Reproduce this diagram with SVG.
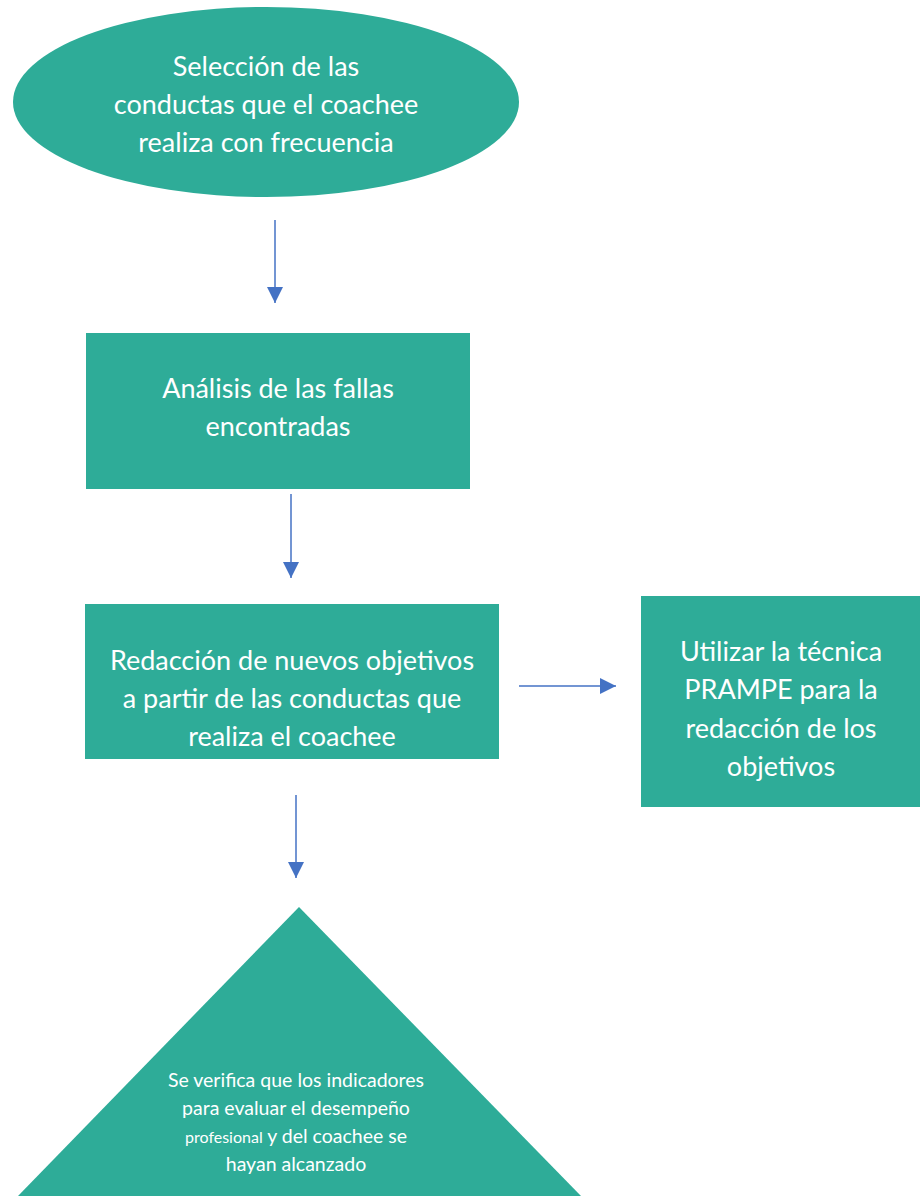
<svg xmlns="http://www.w3.org/2000/svg" width="920" height="1196" viewBox="0 0 920 1196">
<style>
.n{fill:#2EAC98}
.t{fill:#FFFFFF;font-family:Lato,"Open Sans",sans-serif;text-anchor:middle}
.big{font-size:27px}
.sm{font-size:19.5px}
.xs{font-size:16px}
</style>
<defs>
<marker id="ah2" viewBox="0 0 16 16" refX="16" refY="8" markerWidth="16" markerHeight="16" markerUnits="userSpaceOnUse" orient="auto">
<path d="M0,0 L16,8 L0,16 z" fill="#4472C4"/>
</marker>
</defs>
<rect width="920" height="1196" fill="#FFFFFF"/>
<g id="connectors">
<line x1="275" y1="220" x2="275" y2="303" stroke="#4472C4" stroke-width="1.5" marker-end="url(#ah2)"/>
<line x1="291" y1="494" x2="291" y2="578" stroke="#4472C4" stroke-width="1.5" marker-end="url(#ah2)"/>
<line x1="519" y1="686" x2="616" y2="686" stroke="#4472C4" stroke-width="1.5" marker-end="url(#ah2)"/>
<line x1="296" y1="795" x2="296" y2="878" stroke="#4472C4" stroke-width="1.5" marker-end="url(#ah2)"/>
</g>
<g id="node1">
<ellipse class="n" cx="266" cy="102" rx="253" ry="95"/>
<text class="t big" x="266" y="76">Selección de las</text>
<text class="t big" x="266" y="114">conductas que el coachee</text>
<text class="t big" x="266" y="152">realiza con frecuencia</text>
</g>
<g id="node2">
<rect class="n" x="86" y="333" width="384" height="156"/>
<text class="t big" x="278" y="398">Análisis de las fallas</text>
<text class="t big" x="278" y="436">encontradas</text>
</g>
<g id="node3">
<rect class="n" x="85" y="604" width="414" height="155"/>
<text class="t big" x="292" y="670">Redacción de nuevos objetivos</text>
<text class="t big" x="292" y="708">a partir de las conductas que</text>
<text class="t big" x="292" y="746">realiza el coachee</text>
</g>
<g id="node4">
<rect class="n" x="641" y="596" width="279" height="211"/>
<text class="t big" x="781" y="661">Utilizar la técnica</text>
<text class="t big" x="781" y="699">PRAMPE para la</text>
<text class="t big" x="781" y="738">redacción de los</text>
<text class="t big" x="781" y="776">objetivos</text>
</g>
<g id="node5">
<polygon class="n" points="299,907 581,1196 18,1196"/>
<text class="t sm" x="296" y="1087">Se verifica que los indicadores</text>
<text class="t sm" x="296" y="1115">para evaluar el desempeño</text>
<text class="t sm" x="296" y="1143"><tspan class="xs">profesional</tspan> y del coachee se</text>
<text class="t sm" x="296" y="1171">hayan alcanzado</text>
</g>
</svg>
